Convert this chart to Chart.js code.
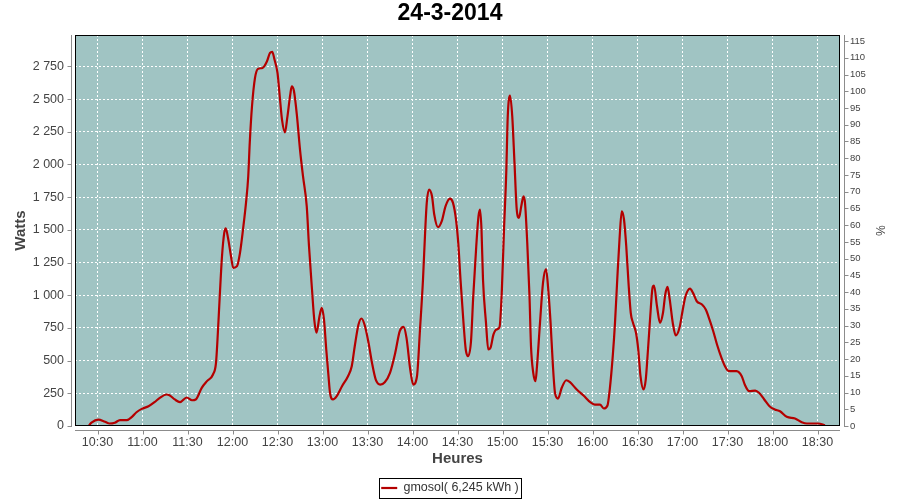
<!DOCTYPE html>
<html>
  <head>
    <title>24-3-2014</title>
    <script src="https://cdn.jsdelivr.net/npm/chart.js"></script>
    <style>
      html,
      body {
        margin: 0;
        padding: 0;
        background-color: white;
        overflow: hidden;
      }
      div {
        width: 900px;
        height: 500px;
      }
    </style>
  </head>
  <body>
    <div>
      <canvas id="chartCanvas"></canvas>
    </div>
    <script>
      // values (time of day -> watts)
      const times = [
        "10:24", "10:26", "10:30:30", "10:35", "10:38", "10:41:30", "10:45", "10:49:30",
        "10:53", "10:56", "10:59:30", "11:04", "11:08", "11:11:30", "11:16", "11:18",
        "11:21:30", "11:25", "11:29:30", "11:33", "11:35:30", "11:39:30", "11:43", "11:47",
        "11:49", "11:50", "11:51:30", "11:53", "11:54:30", "11:55:30", "11:57", "11:59",
        "12:00:30", "12:03", "12:05", "12:07", "12:09", "12:10:30", "12:11:30", "12:13",
        "12:15", "12:17", "12:20", "12:23", "12:25", "12:26:30", "12:28", "12:30",
        "12:31:30", "12:33", "12:35", "12:36:30", "12:38:30", "12:39:30", "12:41", "12:43",
        "12:45", "12:47", "12:49:30", "12:51", "12:53", "12:54:30", "12:56", "12:58",
        "12:59:30", "13:01", "13:02:30", "13:04", "13:05", "13:07", "13:09:30", "13:13",
        "13:17", "13:19:30", "13:21:30", "13:24", "13:26", "13:28", "13:30:30", "13:33",
        "13:35:30", "13:38:30", "13:41:30", "13:45", "13:48:30", "13:51:30", "13:54", "13:56",
        "13:58:30", "14:00:30", "14:03", "14:05", "14:07", "14:08:30", "14:09:30", "14:11",
        "14:13", "14:14:30", "14:17", "14:19:30", "14:22", "14:25", "14:27", "14:29",
        "14:30:30", "14:32", "14:34", "14:35:30", "14:37", "14:39", "14:40:30", "14:42:30",
        "14:44", "14:45", "14:46", "14:47", "14:49", "14:50:30", "14:52", "14:54",
        "14:56", "14:58", "14:59:30", "15:01", "15:02:30", "15:03:30", "15:05", "15:06:30",
        "15:08", "15:09:30", "15:11", "15:12:30", "15:14", "15:15", "15:16:30", "15:18",
        "15:19", "15:20:30", "15:22", "15:23", "15:25", "15:27", "15:29", "15:30:30",
        "15:32", "15:33:30", "15:35", "15:37", "15:39:30", "15:42:30", "15:45", "15:49:30",
        "15:54", "15:58:30", "16:01:30", "16:05", "16:07:30", "16:10", "16:11:30", "16:13:30",
        "16:15", "16:16:30", "16:18", "16:19:30", "16:21", "16:22:30", "16:24", "16:25:30",
        "16:27", "16:29", "16:30:30", "16:32", "16:34", "16:35:30", "16:37", "16:38:30",
        "16:40", "16:41", "16:43", "16:45", "16:47", "16:48:30", "16:50", "16:51:30",
        "16:53:30", "16:55:30", "16:58", "17:00", "17:02", "17:05", "17:07", "17:09:30",
        "17:13", "17:15:30", "17:18", "17:20:30", "17:23", "17:26", "17:28:30", "17:30:30",
        "17:36", "17:39:30", "17:41:30", "17:44:30", "17:48:30", "17:51", "17:54:30", "17:58",
        "18:01:30", "18:05", "18:09:30", "18:15", "18:19:30", "18:23", "18:30:30", "18:35"
      ];
      const watts = [
        0, 25, 48, 32, 19, 25, 45, 45,
        70, 105, 131, 151, 182, 215, 241, 235,
        203, 182, 218, 197, 203, 292, 343, 394,
        483, 661, 992, 1298, 1477, 1512, 1439, 1298,
        1209, 1222, 1324, 1502, 1706, 1910, 2165, 2445,
        2662, 2731, 2738, 2789, 2853, 2861, 2802, 2700,
        2521, 2343, 2246, 2356, 2534, 2598, 2560, 2368,
        2114, 1910, 1680, 1375, 1044, 814, 713, 839,
        904, 814, 585, 381, 254, 203, 228, 304,
        381, 457, 610, 776, 822, 776, 648, 483,
        355, 317, 335, 407, 560, 725, 758, 674,
        432, 317, 381, 738, 1120, 1502, 1706, 1808,
        1757, 1617, 1520, 1566, 1680, 1739, 1706, 1579,
        1400, 1120, 789, 585, 534, 648, 992, 1375,
        1604, 1655, 1502, 1120, 789, 585, 598, 700,
        738, 755, 1018, 1502, 1936, 2368, 2527, 2368,
        2012, 1655, 1592, 1680, 1757, 1706, 1400, 992,
        610, 407, 343, 457, 789, 1095, 1200, 1044,
        800, 483, 254, 210, 292, 350, 335, 279,
        233, 182, 164, 164, 134, 157, 279, 534,
        789, 1120, 1426, 1642, 1579, 1375, 1095, 866,
        789, 713, 585, 381, 279, 355, 585, 839,
        1056, 1074, 916, 789, 866, 1005, 1064, 967,
        789, 692, 751, 878, 992, 1051, 1018, 954,
        929, 891, 814, 725, 623, 521, 453, 422,
        419, 381, 317, 266, 271, 254, 203, 151,
        126, 113, 70, 57, 29, 19, 19, 6
      ];

      const hourTicks = [
        "10:30", "11:00", "11:30", "12:00", "12:30", "13:00", "13:30", "14:00", "14:30",
        "15:00", "15:30", "16:00", "16:30", "17:00", "17:30", "18:00", "18:30"
      ];
      const wattTicks = [0, 250, 500, 750, 1000, 1250, 1500, 1750, 2000, 2250, 2500, 2750];
      const percentTicks = [
        0, 5, 10, 15, 20, 25, 30, 35, 40, 45, 50, 55, 60, 65, 70, 75, 80, 85, 90, 95,
        100, 105, 110, 115
      ];
      const seriesLabel = "gmosol( 6,245 kWh )";

      function toMinutes(t) {
        const p = t.split(":").map(Number);
        return p[0] * 60 + p[1] + (p[2] || 0) / 60;
      }
      function fmtWatts(v) {
        if (v < 1000) return String(v);
        return Math.floor(v / 1000) + " " + String(v % 1000).padStart(3, "0");
      }

      const FONT = "'Liberation Sans', Arial, sans-serif";
      const GREY = "#444";

      // plot background, black frame, offset axis lines, legend box
      const frame = {
        id: "frame",
        beforeDraw(chart) {
          const { ctx, chartArea: a } = chart;
          ctx.save();
          ctx.fillStyle = "#fff";
          ctx.fillRect(0, 0, chart.width, chart.height);
          ctx.fillStyle = "#a0c4c3";
          ctx.fillRect(a.left, a.top, a.right - a.left, a.bottom - a.top);
          ctx.restore();
        },
        afterDraw(chart) {
          const { ctx, chartArea: a } = chart;
          const sx = chart.scales.x, sy = chart.scales.y, sp = chart.scales.y1;
          ctx.save();
          ctx.lineWidth = 1;
          ctx.strokeStyle = "#000";
          ctx.strokeRect(a.left + 0.5, a.top + 0.5, a.right - a.left - 1, a.bottom - a.top - 1);

          const lx = Math.round(a.left) - 3.5;
          const rx = Math.round(a.right) + 4.5;
          const by = Math.round(a.bottom) + 4.5;
          ctx.strokeStyle = "#8c8c8c";
          ctx.beginPath();
          ctx.moveTo(lx, a.top);
          ctx.lineTo(lx, a.bottom + 1);
          sy.ticks.forEach((t) => {
            const y = Math.round(sy.getPixelForValue(t.value)) + 0.5;
            ctx.moveTo(lx - 4, y);
            ctx.lineTo(lx, y);
          });
          ctx.moveTo(rx, a.top);
          ctx.lineTo(rx, a.bottom + 1);
          sp.ticks.forEach((t) => {
            const y = Math.round(sp.getPixelForValue(t.value)) + 0.5;
            ctx.moveTo(rx, y);
            ctx.lineTo(rx + 4, y);
          });
          ctx.moveTo(a.left, by);
          ctx.lineTo(a.right, by);
          sx.ticks.forEach((t) => {
            const x = Math.round(sx.getPixelForValue(t.value)) + 0.5;
            ctx.moveTo(x, by);
            ctx.lineTo(x, by + 4);
          });
          ctx.stroke();

          const hb = chart.legend.legendHitBoxes[0];
          if (hb) {
            const cy = hb.top + hb.height / 2;
            ctx.strokeStyle = "#000";
            ctx.strokeRect(
              Math.round(hb.left - 2.5) + 0.5,
              Math.round(cy - 10.5) + 0.5,
              Math.round(hb.width + 4),
              20
            );
          }
          ctx.restore();
        },
      };

      var ctx = document.getElementById("chartCanvas");

      var chart = new Chart(ctx, {
        type: "line",
        data: {
          datasets: [
            {
              label: seriesLabel,
              data: times.map((t, i) => ({ x: toMinutes(t), y: watts[i] })),
              borderColor: "#b40000",
              borderWidth: 2.2,
              pointRadius: 0,
              fill: false,
              cubicInterpolationMode: "monotone",
              yAxisID: "y",
            },
          ],
        },
        options: {
          responsive: true,
          maintainAspectRatio: false,
          animation: false,
          layout: { padding: 0 },
          scales: {
            x: {
              type: "linear",
              position: "bottom",
              min: 615,
              max: 1125,
              afterBuildTicks: (s) => {
                s.ticks = hourTicks.map((t) => ({ value: toMinutes(t) }));
              },
              afterFit: (s) => {
                s.height = 46;
              },
              ticks: {
                color: GREY,
                font: { family: FONT, size: 12.5 },
                padding: 9,
                maxRotation: 0,
                autoSkip: false,
                callback: (v) => {
                  const h = Math.floor(v / 60);
                  const m = Math.round(v - h * 60);
                  return h + ":" + String(m).padStart(2, "0");
                },
              },
              grid: { color: "#fff", lineWidth: 1, drawTicks: false },
              border: { display: false, dash: [2, 2] },
              title: {
                display: true,
                text: "Heures",
                color: GREY,
                font: { family: FONT, size: 15, weight: "bold" },
                padding: 4,
              },
            },
            y: {
              position: "left",
              min: 0,
              max: 2990,
              afterBuildTicks: (s) => {
                s.ticks = wattTicks.map((v) => ({ value: v }));
              },
              afterFit: (s) => {
                s.width = 75;
              },
              ticks: {
                color: GREY,
                font: { family: FONT, size: 12.5 },
                padding: 11,
                callback: (v) => fmtWatts(v),
              },
              grid: { color: "#fff", lineWidth: 1, drawTicks: false },
              border: { display: false, dash: [2, 2] },
              title: {
                display: true,
                text: "Watts",
                color: GREY,
                font: { family: FONT, size: 15, weight: "bold" },
                padding: 12,
              },
            },
            y1: {
              position: "right",
              min: 0,
              max: 116.8,
              afterBuildTicks: (s) => {
                s.ticks = percentTicks.map((v) => ({ value: v }));
              },
              afterFit: (s) => {
                s.width = 60;
              },
              ticks: {
                color: GREY,
                font: { family: FONT, size: 9.5 },
                padding: 10,
              },
              grid: { display: false, drawTicks: false },
              border: { display: false },
              title: {
                display: true,
                text: "%",
                color: GREY,
                font: { family: FONT, size: 12 },
                padding: 13,
              },
            },
          },
          plugins: {
            title: {
              display: true,
              text: "24-3-2014",
              color: "#000",
              font: { family: FONT, size: 23, weight: "bold", lineHeight: 1 },
              padding: { top: 2, bottom: 10 },
            },
            legend: {
              position: "bottom",
              maxHeight: 28,
              labels: {
                usePointStyle: true,
                pointStyle: "line",
                pointStyleWidth: 16,
                color: "#333",
                font: { family: FONT, size: 12.5 },
                padding: 9.75,
              },
            },
            tooltip: { enabled: false },
          },
        },
        plugins: [frame],
      });
    </script>
  </body>
</html>
